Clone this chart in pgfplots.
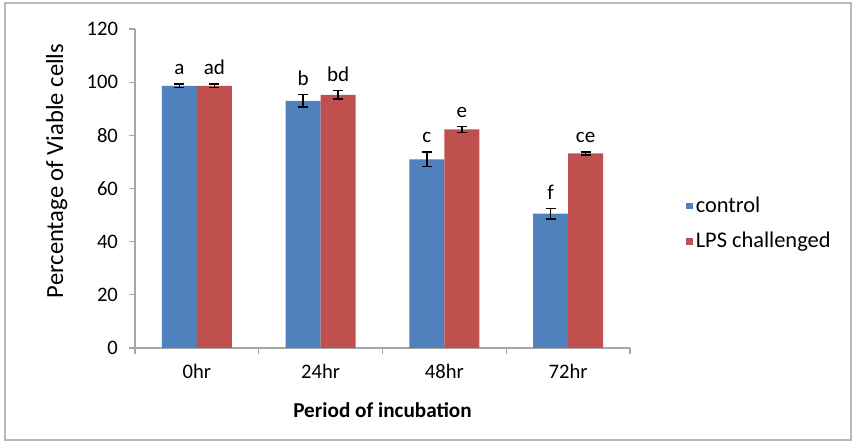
\documentclass[border=0pt]{standalone}
\usepackage{pgfplots}
\pgfplotsset{compat=1.18}
\usepackage{pgfplotstable}
\usepackage{fontspec}
\setmainfont{Carlito}
\definecolor{xblue}{HTML}{4F81BD}
\definecolor{xred}{HTML}{C0504D}
\pgfplotstableread{
x y err lab
-0.1415 98.6 0.7 a
0.8585 93.0 2.3 b
1.8585 71.0 2.8 c
2.8585 50.5 2.0 f
}\ctrl
\pgfplotstableread{
x y err lab
0.1415 98.6 0.7 ad
1.1415 95.2 1.6 bd
2.1415 82.2 1.2 e
3.1415 73.2 0.6 ce
}\lps
\begin{document}
\begin{tikzpicture}[font=\fontsize{10.3}{12}\selectfont]
\useasboundingbox (0,0) rectangle (427pt,221.5pt);
\draw[gray!55, line width=0.6pt] (2.5pt,1.5pt) rectangle (425.5pt,220pt);
\begin{axis}[
  at={(67.5pt,47.5pt)}, anchor=south west,
  scale only axis, width=247.5pt, height=159.5pt,
  xmin=-0.5, xmax=3.5, ymin=0, ymax=120,
  axis lines=left, axis line style={-, draw=gray!70, line width=0.6pt},
  tick style={draw=gray!70, line width=0.6pt},
  tick align=outside, major tick length=3pt,
  ytick={0,20,...,120},
  xtick={-0.5,0.5,1.5,2.5,3.5}, xticklabels={},
  extra x ticks={0,1,2,3}, extra x tick labels={0hr,24hr,48hr,72hr},
  extra x tick style={major tick length=0pt},
  /pgf/number format/assume math mode=true,
  yticklabel style={xshift=-2pt},
  xticklabel style={yshift=-4.5pt},
  ylabel={Percentage of Viable cells},
  ylabel style={at={(axis description cs:-0.158,0.555)}, anchor=center, font=\fontsize{12.3}{14}\selectfont},
  xlabel={Period of incubation},
  xlabel style={at={(axis description cs:0.5,-0.194)}, anchor=center, font=\fontsize{10.6}{12}\selectfont\bfseries},
  legend style={at={(axis description cs:1.105,0.39)}, anchor=west, draw=none, fill=none,
    font=\fontsize{11.2}{14}\selectfont, row sep=4.5pt, inner sep=2pt,
    nodes={inner xsep=1.5pt}},
  legend cell align=left,
  legend image code/.code={\fill[#1,draw=none] (0pt,-1.6pt) rectangle (3.2pt,1.6pt);},
]
\addplot[ybar, bar width=0.283, bar shift=0pt, fill=xblue, draw=none,
  error bars/.cd, y dir=both, y explicit,
  error bar style={black, line width=0.7pt},
  error mark options={black, rotate=90, mark size=2.5pt, line width=0.7pt}]
  table[x=x, y=y, y error=err] {\ctrl};
\addlegendentry{control}
\addplot[ybar, bar width=0.283, bar shift=0pt, fill=xred, draw=none,
  error bars/.cd, y dir=both, y explicit,
  error bar style={black, line width=0.7pt},
  error mark options={black, rotate=90, mark size=2.5pt, line width=0.7pt}]
  table[x=x, y=y, y error=err] {\lps};
\addlegendentry{LPS challenged}
\addplot[forget plot, only marks, mark=*, mark size=0pt, mark options={draw=none,fill=none},
  nodes near coords, point meta=explicit symbolic,
  nodes near coords style={anchor=south, font=\fontsize{10.5}{12}\selectfont, text=black, yshift=1pt}]
  table[x=x, y expr=\thisrow{y}+\thisrow{err}, meta=lab] {\ctrl};
\addplot[forget plot, only marks, mark=*, mark size=0pt, mark options={draw=none,fill=none},
  nodes near coords, point meta=explicit symbolic,
  nodes near coords style={anchor=south, font=\fontsize{10.5}{12}\selectfont, text=black, yshift=1pt}]
  table[x=x, y expr=\thisrow{y}+\thisrow{err}, meta=lab] {\lps};
\end{axis}
\end{tikzpicture}
\end{document}
